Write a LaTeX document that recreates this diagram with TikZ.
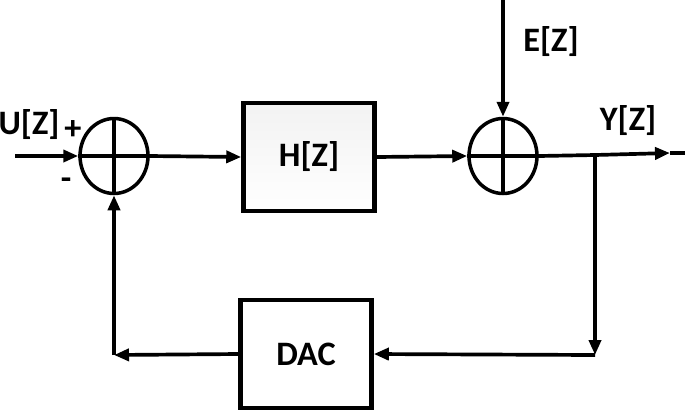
\documentclass[tikz,border=0pt]{standalone}
\usepackage{fontspec}
\setmainfont{Carlito}
\usetikzlibrary{arrows.meta,shapes.geometric}

\tikzset{
  block/.style={draw, line width=2.6pt, minimum width=2.62cm, minimum height=2.16cm, inner sep=0pt},
  sumnode/.style={draw, ellipse, line width=2pt, minimum width=1.36cm, minimum height=1.5cm, inner sep=0pt},
  lbl/.style={font=\fontsize{19.5}{21}\selectfont\bfseries, inner sep=0pt},
  sig/.style={line width=2.1pt},
}

\begin{document}
\begin{tikzpicture}[x=0.02cm, y=-0.02cm, >={Triangle[length=0.3cm, width=0.24cm]}]
    \useasboundingbox (0, 0) rectangle (685, 410);

    \node [sumnode] (sum1) at (114, 156) {};
    \node [sumnode] (sum2) at (503, 156) {};
    \node [block, top color=gray!10, bottom color=white] (hz) at (309, 157) {};
    \node [lbl] at (hz) {H[Z]};
    \node [block] (dac) at (306, 354) {};
    \node [lbl] at (dac) {DAC};

    \draw [sig] (sum1.north) -- (sum1.south);
    \draw [sig] (sum1.west) -- (sum1.east);
    \draw [sig] (sum2.north) -- (sum2.south);
    \draw [sig] (sum2.west) -- (sum2.east);

    \coordinate (uin) at (15, 156);
    \coordinate (etop) at (503, 0);
    \coordinate (split) at (595, 155);
    \coordinate (yend) at (685, 153);
    \coordinate (ytip) at (670, 153);
    \coordinate (dacin) at (595, 355);
    \coordinate (fbcorner) at (114, 355);

    \draw [sig, ->] (uin) -- (sum1.west);
    \draw [sig, ->] (sum1.east) -- (hz.west);
    \draw [sig, ->] (hz.east) -- (sum2.west);
    \draw [sig, ->] (etop) -- (sum2.north);
    \draw [sig] (sum2.east) -- (split);
    \draw [sig, ->] (split) -- (ytip);
    \draw [sig] (ytip) -- (yend);
    \draw [sig, ->] (split) -- (dacin);
    \draw [sig, ->] (dacin) -- (dac.east);
    \draw [sig, ->] (dac.west) -- (fbcorner);
    \draw [sig, ->] (fbcorner) -- (sum1.south);

    \node [lbl] (ulbl) at (29, 125) {U[Z]};
    \node [lbl] (plus) at (73, 130) {+};
    \node [lbl] (minus) at (66, 184) {-};
    \node [lbl] (elbl) at (551, 42) {E[Z]};
    \node [lbl] (ylbl) at (628, 121) {Y[Z]};
  \end{tikzpicture}
\end{document}
